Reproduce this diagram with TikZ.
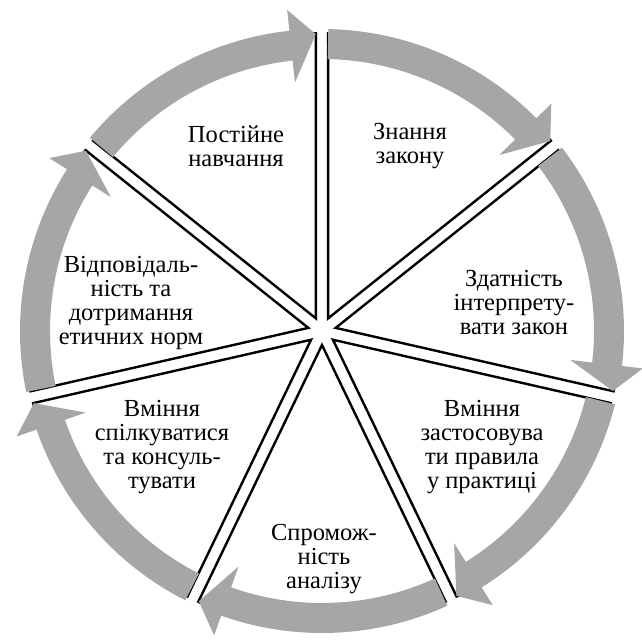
\documentclass[tikz,border=0pt]{standalone}
\usepackage{fontspec}
\setmainfont{Liberation Serif}
\usepackage{tikz}
\usetikzlibrary{positioning}
\definecolor{arrowgray}{RGB}{166,166,166}

\begin{document}
\begin{tikzpicture}[x=1pt, y=1pt,
    wedge/.style={draw=black, line width=2.4pt, fill=white},
    ringarrow/.style={fill=arrowgray},
    segtext/.style={align=center, font=\fontsize{24.5}{24}\selectfont}]
    \useasboundingbox (-322,-312) rectangle (320,331);
    % pie segments, pulled apart from the centre
    \foreach \i in {0,...,6} {
        \pgfmathsetmacro{\s}{90-\i*360/7}
        \pgfmathsetmacro{\e}{\s-360/7}
        \pgfmathsetmacro{\m}{\s-180/7}
        \draw[wedge, shift={(\m:14)}] (0,0) -- (\s:285) arc[start angle=\s, end angle=\e, radius=285] -- cycle;
    }
    % gray arrows round the ring
    \foreach \i in {0,...,6} {
        \pgfmathsetmacro{\ta}{90-\i*360/7-1.2}
        \pgfmathsetmacro{\hb}{90-(\i+1)*360/7+6.2}
        \pgfmathsetmacro{\tip}{90-(\i+1)*360/7+1.2}
        \fill[ringarrow] (\ta:302) arc[start angle=\ta, end angle=\hb, radius=302]
            -- (\hb:323) -- (\tip:297) -- (\hb:250) -- (\hb:272)
            arc[start angle=\hb, end angle=\ta, radius=272] -- cycle;
    }
    \node[segtext] (learning) at (-86,185) {Постійне\\навчання};
    \node[segtext] (law) at (88,185) {Знання\\закону};
    \node[segtext] (interpret) at (192,28) {Здатність\\інтерпрету-\\вати закон};
    \node[segtext] (apply) at (160,-116) {Вміння\\застосовува\\ти правила\\у практиці};
    \node[segtext] (analysis) at (2,-228) {Спромож-\\ність\\аналізу};
    \node[segtext] (communicate) at (-160,-116) {Вміння\\спілкуватися\\та консуль-\\тувати};
    \node[segtext] (ethics) at (-191,28) {Відповідаль-\\ність та\\дотримання\\етичних норм};
\end{tikzpicture}
\end{document}
